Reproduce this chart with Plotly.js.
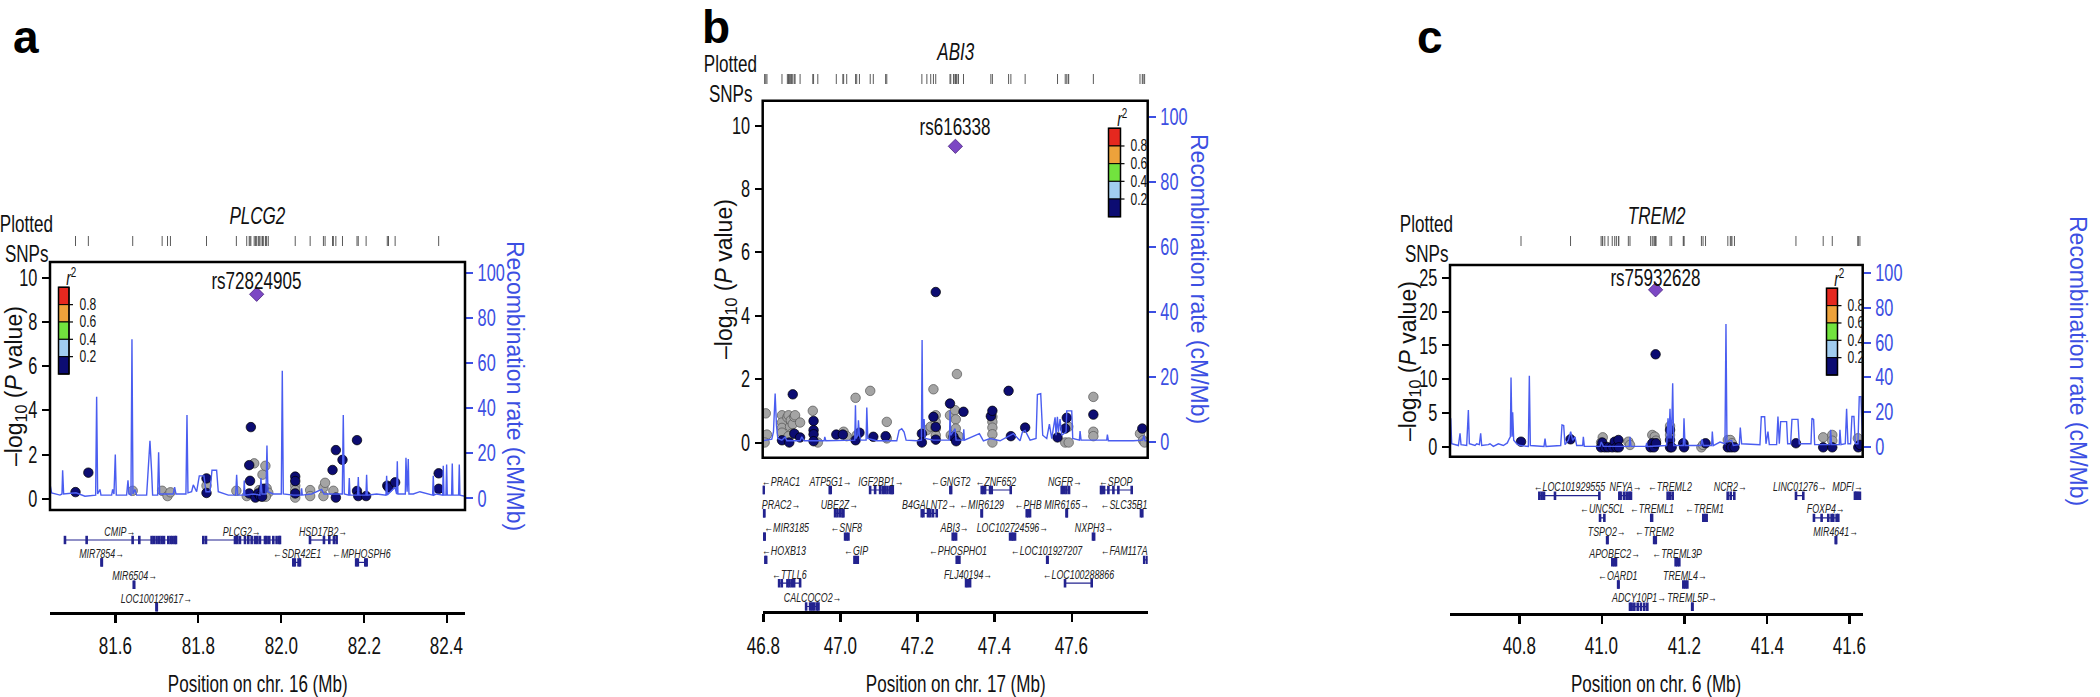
<!DOCTYPE html>
<html><head><meta charset="utf-8">
<script src="https://cdn.plot.ly/plotly-3.0.1.min.js"></script>
<style>html,body{margin:0;padding:0;background:#fff;}#chart{width:2100px;height:697px;}</style>
</head><body><div id="chart"></div>
<script>
// ===================== DATA =====================
const recTicks = [0, 20, 40, 60, 80, 100];
const r2Labels = ['0.8', '0.6', '0.4', '0.2'];

// ---- Panel a: chr16, PLCG2 ----
const xTicksA = [81.6, 81.8, 82.0, 82.2, 82.4];
const yTicksA = [0, 2, 4, 6, 8, 10];
const leadA = {name: 'rs72824905', x: 81.941, p: 9.25};
const grayA = [[81.642,0.36],[81.713,0.36],[81.726,0.12],[81.733,0.29],[81.820,0.59],[81.892,0.36],[81.917,0.12],[81.935,1.60],[81.947,0.39],[81.955,1.09],[81.962,1.49],[81.965,0.47],[81.969,0.27],[81.963,0.09],[82.034,0.59],[82.034,0.39],[82.034,0.05],[82.070,0.39],[82.070,0.12],[82.102,0.12],[82.102,0.50],[82.106,0.72],[82.126,0.36]];
const navyA = [[81.504,0.30],[81.535,1.18],[81.820,0.92],[81.820,0.26],[81.923,0.24],[81.923,1.52],[81.925,0.81],[81.927,3.24],[81.938,0.05],[81.945,0.24],[81.949,0.12],[81.954,0.09],[81.957,0.45],[82.034,1.00],[82.034,0.80],[82.034,0.24],[82.124,1.30],[82.132,2.20],[82.132,0.05],[82.148,1.76],[82.183,2.65],[82.183,0.35],[82.186,0.12],[82.205,0.12],[82.256,0.59],[82.259,0.51],[82.275,0.74],[82.380,1.15],[82.380,0.45]];
const recA = [[81.4424,6.5],[81.4464,2.5],[81.4665,1.5],[81.4714,2],[81.4730,12.5],[81.4754,2],[81.5051,2.5],[81.5268,1.0],[81.5526,1.5],[81.5550,45],[81.5574,2],[81.5630,4],[81.5654,1.5],[81.5912,1.5],[81.5936,4],[81.5968,2],[81.6000,19.5],[81.6024,1.5],[81.6273,1.5],[81.6306,8],[81.6330,2],[81.6378,1.5],[81.6402,70.5],[81.6426,2],[81.6474,4],[81.6515,1.5],[81.6756,1.5],[81.6804,20],[81.6836,25.5],[81.6876,12],[81.6900,1.5],[81.7021,1.5],[81.7045,20.5],[81.7069,2],[81.7399,2],[81.7431,5],[81.7463,2],[81.7704,2],[81.7729,37],[81.7753,2.5],[81.7841,3],[81.7881,6],[81.7962,3],[81.8026,10],[81.8139,10],[81.8187,3],[81.8283,3],[81.8332,12.5],[81.8444,12.5],[81.8484,3],[81.8726,1.5],[81.8903,1.5],[81.8927,10.5],[81.8951,1.5],[81.9095,1.5],[81.9111,8],[81.9127,1.5],[81.9328,2],[81.9489,1.5],[81.9513,9],[81.9537,2],[81.9634,2],[81.9658,23.5],[81.9682,3],[81.9811,2],[82.0004,2],[82.0028,56.5],[82.0052,2],[82.0293,1.5],[82.0478,1.5],[82.0494,4.5],[82.0510,1.5],[82.0736,2],[82.0977,4],[82.1033,2],[82.1258,2],[82.1475,2],[82.1499,37],[82.1523,2],[82.1628,1.5],[82.1644,9],[82.1660,1.5],[82.1845,1.5],[82.1861,9.5],[82.1877,1.5],[82.2046,1.5],[82.2062,10.5],[82.2078,1.5],[82.2303,2],[82.2529,1.5],[82.2545,10],[82.2561,1.5],[82.2745,5],[82.2786,2],[82.2802,16.5],[82.2818,2],[82.2995,2],[82.3011,18],[82.3039,3],[82.3067,17.5],[82.3083,2],[82.3188,2],[82.3348,3],[82.3654,1.5],[82.3670,10],[82.3686,1.5],[82.3750,2],[82.3895,1.5],[82.3911,14.5],[82.3927,1.5],[82.3976,1.5],[82.3992,15],[82.4008,1.5],[82.4112,1.5],[82.4128,15.5],[82.4144,1.5],[82.4281,1.5],[82.4297,15],[82.4313,1.5],[82.4434,1]];
const geneNameA = ['CMIP','PLCG2','HSD17B2','MIR7854','SDR42E1','MPHOSPH6','MIR6504','LOC100129617'];
const geneStartA = [81.4786,81.8122,82.0696,81.5668,82.0293,82.1810,81.6447,81.6995];
const geneEndA = [81.7463,81.9972,82.1339,81.5676,82.0455,82.2063,81.6455,81.7001];
const geneStrandA = [1,1,1,1,-1,-1,1,1];
const geneRowA = [1,1,1,2,2,2,3,4];
const exonA = [[81.5309,1],[81.6418,1],[81.6579,1],[81.6876,1],[81.6932,1],[81.6997,1],[81.7061,1],[81.7118,1],[81.7174,1],[81.7278,1],[81.7335,1],[81.7383,1],[81.7439,1],[81.8187,1],[81.8887,1],[81.8943,1],[81.9007,1],[81.9128,1],[81.9208,1],[81.9289,1],[81.9369,1],[81.9425,1],[81.9489,1],[81.9610,1],[81.9650,1],[81.9714,1],[81.9811,1],[81.9891,1],[81.9956,1],[82.1033,1],[82.1162,1],[82.1274,1],[82.0330,2],[82.0420,2],[82.1850,2],[82.2030,2]];

// ---- Panel b: chr17, ABI3 ----
const xTicksB = [46.8, 47.0, 47.2, 47.4, 47.6];
const yTicksB = [0, 2, 4, 6, 8, 10];
const leadB = {name: 'rs616338', x: 47.298, p: 9.35};
const grayB = [[46.806,0.92],[46.809,0.25],[46.803,0.0],[46.848,0.86],[46.848,0.63],[46.848,0.46],[46.848,0.31],[46.862,0.79],[46.865,0.86],[46.869,0.50],[46.871,0.70],[46.873,0.28],[46.876,0.58],[46.880,0.81],[46.882,0.86],[46.865,0.20],[46.895,0.63],[46.928,1.00],[46.941,0.0],[47.008,0.34],[47.016,0.20],[47.039,1.41],[47.042,0.23],[47.077,1.63],[47.120,0.65],[47.120,0.13],[47.224,0.39],[47.234,0.50],[47.241,1.68],[47.247,0.86],[47.247,0.65],[47.247,0.44],[47.247,0.23],[47.284,0.86],[47.286,0.23],[47.297,1.02],[47.299,0.73],[47.299,0.44],[47.302,2.16],[47.306,0.20],[47.394,0.81],[47.394,0.65],[47.394,0.47],[47.394,0.26],[47.394,0.0],[47.583,0.0],[47.591,0.50],[47.592,0.0],[47.656,1.44],[47.656,0.34],[47.656,0.20],[47.777,0.28],[47.785,0.07],[47.789,0.0]];
const navyB = [[46.848,0.07],[46.867,0.0],[46.876,1.52],[46.880,0.28],[46.895,0.16],[46.930,0.68],[46.930,0.39],[46.930,0.26],[46.930,0.04],[46.989,0.25],[47.006,0.25],[47.039,0.07],[47.049,0.31],[47.085,0.18],[47.117,0.20],[47.211,0.28],[47.211,0.0],[47.241,0.81],[47.247,0.49],[47.247,0.09],[47.247,4.75],[47.284,1.23],[47.293,0.18],[47.300,0.04],[47.319,0.97],[47.390,0.83],[47.394,1.00],[47.436,1.63],[47.442,0.20],[47.479,0.47],[47.563,0.16],[47.583,0.44],[47.587,0.78],[47.656,0.88],[47.783,0.44]];
const recB = [[46.7980,0.3],[46.8130,0.5],[46.8216,0.8],[46.8259,3],[46.8303,14.8],[46.8337,5],[46.8372,1],[46.8476,0.5],[46.8562,1.5],[46.8605,0.3],[46.8951,0.3],[46.8994,1.5],[46.9055,0.3],[46.9574,0.3],[46.9591,1.5],[46.9617,0.3],[47.0162,0.3],[47.0369,0.5],[47.0387,11.2],[47.0404,1],[47.0447,2],[47.0464,6.6],[47.0490,2],[47.0525,0.5],[47.0663,0.5],[47.0681,10.5],[47.0707,1],[47.0940,0.3],[47.1459,0.3],[47.1519,3.5],[47.1588,4],[47.1649,3],[47.1701,0.5],[47.1978,0.3],[47.2099,0.5],[47.2116,31.3],[47.2133,4],[47.2168,7],[47.2194,1],[47.2410,0.5],[47.2825,0.5],[47.2842,9.5],[47.2860,2],[47.2972,4],[47.2998,0.5],[47.3180,0.5],[47.3197,3.8],[47.3214,0.5],[47.3603,2.5],[47.3707,0.3],[47.3880,1],[47.4139,0.3],[47.4485,2.5],[47.4658,0.3],[47.4719,3],[47.4788,3.5],[47.4918,0.5],[47.5073,1],[47.5108,14.5],[47.5194,14.8],[47.5246,2],[47.5350,1],[47.5419,5.4],[47.5480,1],[47.5567,7.5],[47.5592,2],[47.5627,7.7],[47.5653,3],[47.5696,7],[47.5740,2],[47.5852,3],[47.5869,9.5],[47.5999,9.5],[47.6025,1],[47.6198,0.5],[47.6215,3.3],[47.6241,0.5],[47.6907,0.5],[47.6924,2.2],[47.6950,0.3],[47.7598,0.3],[47.7841,0.5],[47.7867,1.9],[47.7901,0.3],[47.7970,0.3]];
const geneNameB = ['PRAC1','ATP5G1','IGF2BP1','GNGT2','ZNF652','NGFR','SPOP','PRAC2','UBE2Z','B4GALNT2','MIR6129','PHB','MIR6165','SLC35B1','MIR3185','SNF8','ABI3','LOC102724596','NXPH3','HOXB13','GIP','PHOSPHO1','LOC101927207','FAM117A','TTLL6','FLJ40194','LOC100288866','CALCOCO2'];
const geneStartB = [46.7995,46.9720,47.0767,47.2850,47.3664,47.5739,47.6759,46.8012,46.9859,47.2107,47.3660,47.4831,47.5865,47.7795,46.8022,47.0118,47.2911,47.4399,47.6550,46.8050,47.0361,47.3015,47.5362,47.7880,46.8406,47.3257,47.5825,46.9107];
const geneEndB = [46.8005,46.9745,47.1355,47.2870,47.4416,47.5929,47.7555,46.8022,47.0075,47.2496,47.3668,47.4917,47.5873,47.7830,46.8030,47.0205,47.2998,47.4528,47.6580,46.8070,47.0447,47.3084,47.5372,47.7960,46.8951,47.3361,47.6517,46.9427];
const geneStrandB = [-1,1,1,-1,-1,1,-1,1,1,1,-1,-1,1,-1,-1,-1,1,1,1,-1,-1,-1,-1,-1,-1,1,-1,1];
const geneRowB = [1,1,1,1,1,1,1,2,2,2,2,2,2,2,3,3,3,3,3,4,4,4,4,4,5,5,5,6];
const exonB = [[47.0897,1],[47.1027,1],[47.1096,1],[47.1156,1],[47.1217,1],[47.1286,1],[47.1329,1],[47.3707,1],[47.3750,1],[47.3880,1],[47.3923,1],[47.5800,1],[47.5860,1],[47.6776,1],[47.6837,1],[47.6950,1],[47.7080,1],[47.7209,1],[46.9920,2],[46.9990,2],[47.0050,2],[47.2150,2],[47.2270,2],[47.2330,2],[47.2400,2],[47.4870,2],[47.0160,3],[47.2950,3],[47.4450,3],[47.4480,3],[47.0400,4],[47.3050,4],[46.8475,5],[46.8622,5],[46.8674,5],[46.8735,5],[46.8795,5],[47.3300,5],[46.9210,6],[46.9262,6],[46.9314,6],[46.9383,6]];

// ---- Panel c: chr6, TREM2 ----
const xTicksC = [40.8, 41.0, 41.2, 41.4, 41.6];
const yTicksC = [0, 5, 10, 15, 20, 25];
const leadC = {name: 'rs75932628', x: 41.130, p: 23.2};
const grayC = [[41.002,1.47],[40.998,0.70],[41.064,0.83],[41.068,0.35],[41.122,1.82],[41.128,1.57],[41.131,0.98],[41.165,3.14],[41.165,1.82],[41.198,0.50],[41.241,0.0],[41.245,0.35],[41.305,1.08],[41.311,1.08],[41.315,0.60],[41.536,1.47],[41.558,1.82],[41.558,0.98],[41.620,1.33]];
const navyC = [[40.804,0.83],[40.924,1.18],[40.998,0.0],[41.001,0.70],[41.007,0.0],[41.015,0.0],[41.025,0.0],[41.031,0.83],[41.035,0.0],[41.040,1.08],[41.041,0.0],[41.118,0.0],[41.122,0.60],[41.126,0.0],[41.131,0.60],[41.130,13.7],[41.165,2.55],[41.165,1.08],[41.165,0.0],[41.169,0.0],[41.197,0.60],[41.199,0.0],[41.251,0.60],[41.305,0.0],[41.313,0.0],[41.321,0.0],[41.470,0.60],[41.536,0.0],[41.558,0.0],[41.621,0.0],[41.625,0.35]];
const recC = [[40.6321,0.5],[40.6337,16.6],[40.6361,2],[40.6523,1],[40.6563,8],[40.6587,1.5],[40.6724,1],[40.6765,21.4],[40.6789,2],[40.6926,1],[40.6967,2],[40.7031,1.5],[40.7063,8],[40.7088,1],[40.7249,1.5],[40.7289,2],[40.7370,0.5],[40.7491,2],[40.7612,1],[40.7709,2.5],[40.7758,5],[40.7782,6],[40.7798,40],[40.7822,6],[40.7838,20],[40.7863,4],[40.7935,2],[40.8016,1],[40.8218,0.5],[40.8242,41],[40.8266,1],[40.8597,0.5],[40.8622,5],[40.8646,0.5],[40.9001,1],[40.9033,12.8],[40.9074,12.5],[40.9106,1.5],[40.9187,4],[40.9243,9],[40.9292,4],[40.9348,6],[40.9389,1],[40.9534,1],[40.9550,6],[40.9574,0.5],[40.9954,0.5],[40.9986,3],[41.0034,0.5],[41.0664,0.5],[41.0680,6],[41.0704,0.5],[41.1068,0.5],[41.1084,2.5],[41.1100,0.5],[41.1568,1],[41.1601,16.6],[41.1625,5],[41.1649,22],[41.1674,5],[41.1698,18],[41.1714,36.6],[41.1738,1],[41.1972,1],[41.1988,16.6],[41.2013,1],[41.2400,1],[41.2424,4.5],[41.2456,1],[41.2658,1],[41.2674,9],[41.2698,1],[41.2860,3],[41.2981,2],[41.3005,70.6],[41.3029,3],[41.3142,4],[41.3183,1],[41.3328,1.5],[41.3352,11.3],[41.3384,2],[41.3667,1.5],[41.3828,1.5],[41.3861,17.5],[41.3942,17.5],[41.3974,2],[41.4022,9],[41.4055,1.5],[41.4232,1.5],[41.4264,17.6],[41.4297,2],[41.4329,14.7],[41.4474,14.7],[41.4499,2],[41.4571,2],[41.4603,16],[41.4749,16],[41.4781,2],[41.5064,2],[41.5088,16.6],[41.5128,16],[41.5153,1.5],[41.5524,1.5],[41.5540,10],[41.5564,1.5],[41.5750,1.5],[41.5766,10],[41.5790,1.5],[41.5895,2],[41.5927,22],[41.5960,2],[41.6024,2],[41.6056,17.6],[41.6105,17.6],[41.6137,2],[41.6202,2],[41.6234,29],[41.6275,29],[41.6299,2],[41.6315,1]];
const geneNameC = ['LOC101929555','NFYA','TREML2','NCR2','LINC01276','MDFI','UNC5CL','TREML1','TREM1','FOXP4','TSPO2','TREM2','MIR4641','APOBEC2','TREML3P','OARD1','TREML4','ADCY10P1','TREML5P'];
const geneStartC = [40.8484,41.0422,41.1592,41.3046,41.4701,41.6129,40.9954,41.1195,41.2456,41.5136,41.0126,41.1265,41.5665,41.0252,41.1786,41.0393,41.1972,41.0680,41.2186];
const geneEndC = [40.9938,41.0704,41.1714,41.3207,41.4878,41.6250,41.0059,41.1215,41.2537,41.5726,41.0136,41.1305,41.5673,41.0341,41.1875,41.0403,41.2069,41.1100,41.2194];
const geneStrandC = [-1,1,-1,1,1,1,-1,-1,-1,1,1,-1,1,1,-1,-1,1,1,1];
const geneRowC = [1,1,1,1,1,1,2,2,2,2,3,3,3,4,4,5,5,6,6];
const exonC = [[40.8540,1],[40.8597,1],[40.8863,1],[41.0454,1],[41.0535,1],[41.0600,1],[41.0664,1],[41.1650,1],[41.3120,1],[41.6160,1],[41.6200,1],[41.5322,2],[41.5483,2],[41.5564,2],[41.5604,2],[41.5685,2],[41.2500,2],[41.0300,4],[41.1830,4],[41.2020,5],[41.0720,6],[41.0785,6],[41.0866,6],[41.0946,6],[41.1027,6]];

// ===================== STYLE / LAYOUT =====================
const W = 2100, H = 697;
const px = v => v / W, py = v => 1 - v / H;
const FN = '"Liberation Sans", Arial, sans-serif';
const SQ = 0.71; // horizontal text compression seen in the reference
const NAVY = '#0c0c72', GRAY = '#a4a4a4', PURPLE = '#7c48c4', RECBLUE = '#4a5df0', BLUETXT = '#3c4fe2', GENEC = '#23238f';
const R2COL = ['#e5281f', '#eda23b', '#72e33e', '#a1cdf0', '#0c0c72'];

const panels = [
  {letter:'a', letterX:26, letterY:37, chr:'16', locus:'PLCG2', L:50, R:465, T:262, B:510, axisY:612,
   xr:[81.4425,82.4435], yr:[-0.51,10.71], rr:[-5.1,104.7], xt:xTicksA, yt:yTicksA,
   lead:leadA, gray:grayA, navy:navyA, rec:recA,
   genes:{n:geneNameA,s:geneStartA,e:geneEndA,d:geneStrandA,r:geneRowA}, exons:exonA,
   rowY0:540, rowStep:22.4, snpT:236, snpB:246, plotX:26.5, plotY:223, snpsY:253, locusY:215, leadY:280,
   leg:{x0:58.5,x1:69,y0:287.3,y1:374}, ltX:15, rtX:515, tCY:386},
  {letter:'b', letterX:716, letterY:27, chr:'17', locus:'ABI3', L:762.7, R:1147.7, T:100.7, B:457.7, axisY:611,
   xr:[46.798,47.797], yr:[-0.48,10.79], rr:[-4.9,104.9], xt:xTicksB, yt:yTicksB,
   lead:leadB, gray:grayB, navy:navyB, rec:recB,
   genes:{n:geneNameB,s:geneStartB,e:geneEndB,d:geneStrandB,r:geneRowB}, exons:exonB,
   rowY0:490, rowStep:23.3, snpT:74, snpB:84, plotX:730, plotY:63.3, snpsY:93.3, locusY:51.7, leadY:126.7,
   leg:{x0:1108.5,x1:1120.5,y0:128.3,y1:216.7}, ltX:725, rtX:1199, tCY:279},
  {letter:'c', letterX:1430, letterY:37, chr:'6', locus:'TREM2', L:1450, R:1862.7, T:265, B:456.7, axisY:612.7,
   xr:[40.632,41.6317], yr:[-1.38,26.85], rr:[-5.4,104.4], xt:xTicksC, yt:yTicksC,
   lead:leadC, gray:grayC, navy:navyC, rec:recC,
   genes:{n:geneNameC,s:geneStartC,e:geneEndC,d:geneStrandC,r:geneRowC}, exons:exonC,
   rowY0:495.7, rowStep:22.2, snpT:236, snpB:246, plotX:1426, plotY:223, snpsY:253, locusY:215, leadY:277.3,
   leg:{x0:1826.5,x1:1837.5,y0:288.3,y1:375}, ltX:1409, rtX:2078, tCY:361}
];

const traces = [];
const layout = {
  width: W, height: H, margin: {l:0, r:0, t:0, b:0}, paper_bgcolor: '#fff', plot_bgcolor: 'rgba(0,0,0,0)',
  showlegend: false, shapes: [], annotations: [], hovermode: false
};

panels.forEach((P, i) => {
  const k = i + 1;
  const xa = k === 1 ? 'x' : 'x' + k;
  const ym = k === 1 ? 'y' : 'y' + k;
  const yr = 'y' + (3 + k), yg = 'y' + (6 + k), ys = 'y' + (9 + k);
  const axKey = s => (s[0] === 'x' ? 'xaxis' : 'yaxis') + s.slice(1);
  const pxPerMb = (P.R - P.L) / (P.xr[1] - P.xr[0]);

  layout[axKey(xa)] = {
    domain: [px(P.L), px(P.R)], range: P.xr, anchor: yg, showline: true, linecolor: '#000', linewidth: 3,
    ticks: 'outside', ticklen: 8, tickwidth: 2.5, tickcolor: '#000', tickvals: P.xt, showticklabels: false,
    showgrid: false, zeroline: false, fixedrange: true
  };
  layout[axKey(ym)] = {
    domain: [py(P.B), py(P.T)], range: P.yr, anchor: xa, ticks: 'outside', ticklen: 7, tickwidth: 2,
    tickcolor: '#000', tickvals: P.yt, tickfont: {family: FN, size: 23, color: '#111'},
    showline: false, showgrid: false, zeroline: false, fixedrange: true
  };
  layout[axKey(yr)] = {
    overlaying: ym, side: 'right', anchor: xa, range: P.rr, tickvals: recTicks, ticks: 'outside',
    ticklen: 7, tickwidth: 2, tickcolor: BLUETXT, tickfont: {family: FN, size: 23, color: BLUETXT},
    showline: false, showgrid: false, zeroline: false, fixedrange: true
  };
  layout[axKey(yg)] = {domain: [py(P.axisY), py(P.B)], range: [P.axisY, P.B], visible: false, fixedrange: true};
  layout[axKey(ys)] = {domain: [py(P.snpB), py(P.snpT)], range: [0, 1], visible: false, fixedrange: true};

  // x tick labels, placed at the tick values
  P.xt.forEach(v => layout.annotations.push({xref: xa, yref: 'paper', x: v, y: py(645.5), text: v.toFixed(1),
    showarrow: false, xanchor: 'center', yanchor: 'middle', font: {family: FN, size: 24, color: '#111'}}));

  traces.push({type: 'scatter', mode: 'lines', xaxis: xa, yaxis: yr, x: P.rec.map(d => d[0]), y: P.rec.map(d => d[1]),
    line: {color: RECBLUE, width: 1.4}, hoverinfo: 'skip'});
  traces.push({type: 'scatter', mode: 'markers', xaxis: xa, yaxis: ym, x: P.gray.map(d => d[0]), y: P.gray.map(d => d[1]),
    marker: {color: GRAY, size: 9.5, line: {color: '#555', width: 0.7}}});
  traces.push({type: 'scatter', mode: 'markers', xaxis: xa, yaxis: ym, x: P.navy.map(d => d[0]), y: P.navy.map(d => d[1]),
    marker: {color: NAVY, size: 9.5, line: {color: '#000', width: 0.7}}});
  traces.push({type: 'scatter', mode: 'markers', xaxis: xa, yaxis: ym, x: [P.lead.x], y: [P.lead.p],
    marker: {symbol: 'diamond', color: PURPLE, size: 11, line: {color: '#4a2580', width: 0.8}}});
  const allX = [...P.gray.map(d => d[0]), ...P.navy.map(d => d[0]), P.lead.x];
  const ux = [...new Set(allX)].sort((a, b) => a - b);
  traces.push({type: 'scatter', mode: 'lines', xaxis: xa, yaxis: ys, x: ux.flatMap(v => [v, v, null]), y: ux.flatMap(() => [0, 1, null]),
    line: {color: '#5a5a5a', width: 1}, hoverinfo: 'skip'});
  const G = P.genes, rowY = r => P.rowY0 + (r - 1) * P.rowStep;
  traces.push({type: 'scatter', mode: 'lines', xaxis: xa, yaxis: yg,
    x: G.s.flatMap((s, j) => [s, G.e[j], null]), y: G.r.flatMap(r => [rowY(r), rowY(r), null]),
    line: {color: GENEC, width: 1.2}, hoverinfo: 'skip'});
  traces.push({type: 'scatter', mode: 'markers', xaxis: xa, yaxis: yg,
    x: [...G.s, ...G.e, ...P.exons.map(d => d[0])],
    y: [...G.r.map(rowY), ...G.r.map(rowY), ...P.exons.map(d => rowY(d[1]))],
    marker: {symbol: 'line-ns-open', size: 6, color: GENEC, line: {color: GENEC, width: 2.6}}, hoverinfo: 'skip'});
  G.n.forEach((name, j) => {
    const txt = G.d[j] > 0 ? name + '→' : '←' + name;
    const half = (txt.length * 5.4 / 2) / pxPerMb, pad = 2 / pxPerMb;
    let cx = (G.s[j] + G.e[j]) / 2;
    cx = Math.max(P.xr[0] + half + pad, Math.min(P.xr[1] - half - pad, cx));
    layout.annotations.push({xref: xa, yref: 'paper', x: cx, y: py(rowY(G.r[j]) - 8.5), text: '<i>' + txt + '</i>',
      showarrow: false, xanchor: 'center', yanchor: 'middle', font: {family: FN, size: 12.5, color: '#222'}});
  });

  layout.shapes.push({type: 'rect', xref: xa + ' domain', yref: ym + ' domain', x0: 0, x1: 1, y0: 0, y1: 1,
    line: {color: '#000', width: 2.5}, fillcolor: 'rgba(0,0,0,0)'});

  const Lg = P.leg, seg = (Lg.y1 - Lg.y0) / 5;
  R2COL.forEach((c, j) => {
    layout.shapes.push({type: 'rect', xref: 'paper', yref: 'paper', x0: px(Lg.x0), x1: px(Lg.x1),
      y0: py(Lg.y0 + (j + 1) * seg), y1: py(Lg.y0 + j * seg), fillcolor: c, line: {color: '#000', width: 1}});
  });
  layout.shapes.push({type: 'rect', xref: 'paper', yref: 'paper', x0: px(Lg.x0), x1: px(Lg.x1), y0: py(Lg.y1), y1: py(Lg.y0),
    line: {color: '#000', width: 1.5}, fillcolor: 'rgba(0,0,0,0)'});
  r2Labels.forEach((lab, j) => {
    const yy = Lg.y0 + (j + 1) * seg;
    layout.shapes.push({type: 'line', xref: 'paper', yref: 'paper', x0: px(Lg.x1), x1: px(Lg.x1 + 4), y0: py(yy), y1: py(yy),
      line: {color: '#000', width: 1.2}});
    layout.annotations.push({xref: 'paper', yref: 'paper', x: px(Lg.x1 + 4.5), y: py(yy), text: lab, showarrow: false,
      xanchor: 'left', yanchor: 'middle', font: {family: FN, size: 17, color: '#111'}});
  });
  layout.annotations.push({xref: 'paper', yref: 'paper', x: px(Lg.x1 + 2), y: py(Lg.y0 - 11), text: '<i>r</i><sup>2</sup>',
    showarrow: false, xanchor: 'center', yanchor: 'middle', font: {family: FN, size: 20, color: '#111'}});

  const ann = (x, y, text, font, extra) => layout.annotations.push(Object.assign({xref: 'paper', yref: 'paper', x: px(x), y: py(y),
    text, showarrow: false, xanchor: 'center', yanchor: 'middle', font}, extra || {}));
  ann(P.letterX, P.letterY, '<b>' + P.letter + '</b>', {family: FN, size: 46, color: '#000'});
  ann(P.plotX, P.plotY, 'Plotted', {family: FN, size: 24, color: '#111'});
  ann(P.plotX, P.snpsY, 'SNPs', {family: FN, size: 24, color: '#111'});
  ann((P.L + P.R) / 2, P.locusY, '<i>' + P.locus + '</i>', {family: FN, size: 24, color: '#111'});
  ann(P.ltX, P.tCY, '–log<sub>10</sub> (<i>P</i> value)', {family: FN, size: 23, color: '#111'}, {textangle: -90});
  ann(P.rtX, P.tCY, 'Recombination rate (cM/Mb)', {family: FN, size: 23, color: BLUETXT}, {textangle: 90});
  ann((P.L + P.R) / 2, 683, 'Position on chr. ' + P.chr + ' (Mb)', {family: FN, size: 24, color: '#111'});
  layout.annotations.push({xref: xa, yref: 'paper', x: P.lead.x, y: py(P.leadY), text: P.lead.name, showarrow: false,
    xanchor: 'center', yanchor: 'middle', font: {family: FN, size: 24, color: '#111'}});
});

// horizontally compress upright texts, as in the reference figure
function squeeze(gd) {
  gd.querySelectorAll('text').forEach(t => {
    const s = (t.textContent || '').trim();
    if (!s || s === 'a' || s === 'b' || s === 'c' || s === 'r2') return;
    let el = t, rotated = false;
    while (el && el !== gd && el.getAttribute) {
      const tr = el.getAttribute('transform') || '';
      const m = tr.match(/rotate\(\s*(-?[\d.]+)/);
      if (m && Math.abs(parseFloat(m[1])) > 0.5) { rotated = true; break; }
      el = el.parentNode;
    }
    if (rotated) return;
    let bb;
    try { bb = t.getBBox(); } catch (e) { return; }
    if (!bb || !bb.width) return;
    const anchor = t.getAttribute('text-anchor') || window.getComputedStyle(t).textAnchor || 'start';
    const ax = anchor === 'middle' ? bb.x + bb.width / 2 : anchor === 'end' ? bb.x + bb.width : bb.x;
    const prev = t.getAttribute('transform') || '';
    t.setAttribute('transform', (prev + ' translate(' + ax + ',0) scale(' + SQ + ',1) translate(' + (-ax) + ',0)').trim());
  });
}

Plotly.newPlot('chart', traces, layout, {displayModeBar: false, staticPlot: true}).then(squeeze);
</script>
</body></html>
